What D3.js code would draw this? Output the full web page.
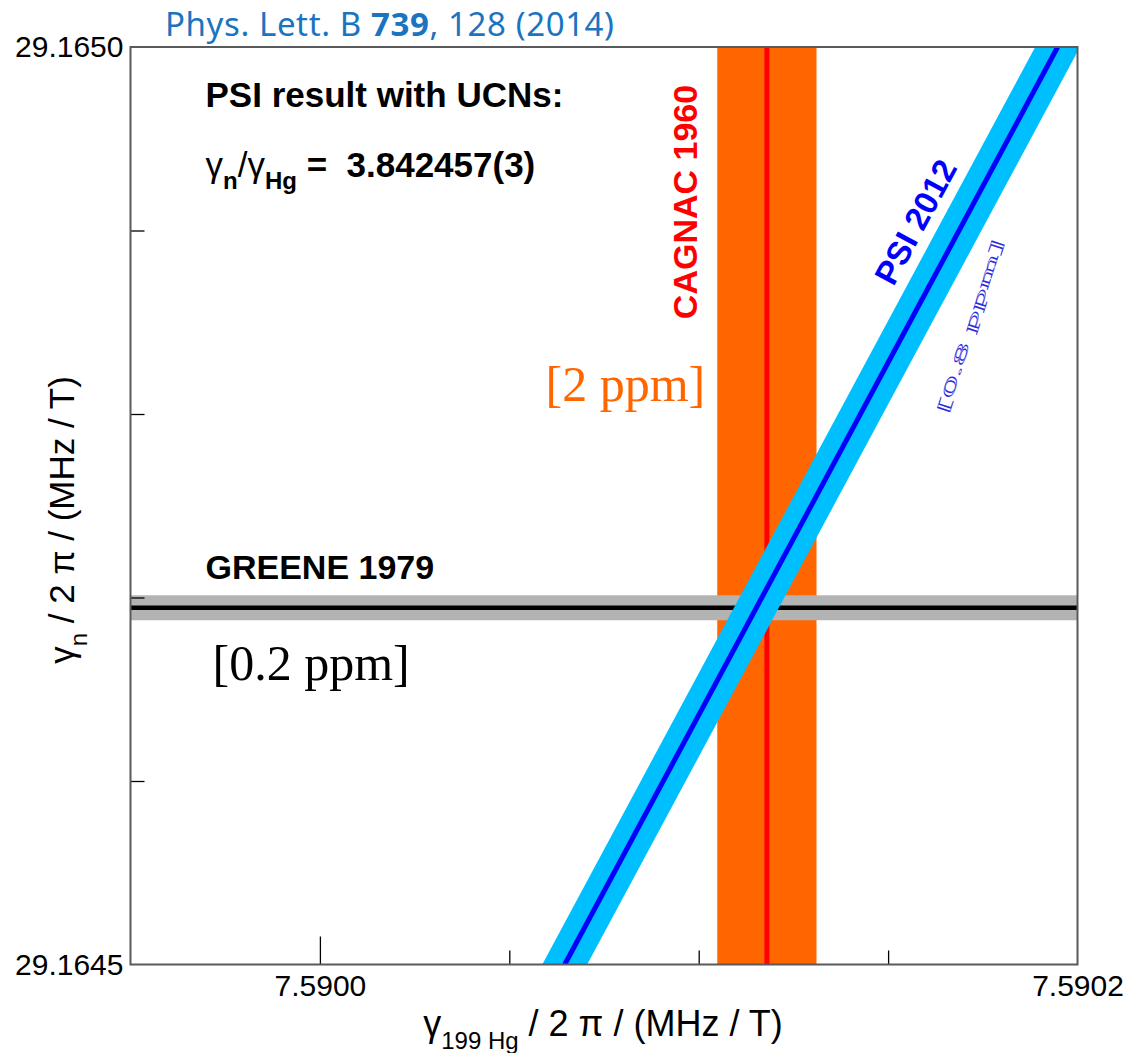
<!DOCTYPE html>
<html>
<head>
<meta charset="utf-8">
<script src="https://cdn.jsdelivr.net/npm/d3@7"></script>
<style>
  body { margin: 0; background: #fff; }
</style>
</head>
<body>
<div class="grafico"></div>
<script>
// datos del grafico
const xDomain = [7.58995, 7.5902];
const yDomain = [29.1645, 29.1650];
const xMajorTicks = [7.5900];
const xMinorTicks = [7.59005, 7.5901, 7.59015];
const xTickLabels = [7.5900, 7.5902];
const yTicks = [29.1646, 29.1647, 29.1648, 29.1649];
const yTickLabels = [29.1645, 29.1650];

// [valor, error]
const cagnac = [7.590118, 0.0000131];
const greene = [29.1646944, 0.0000068];
const psiRatio = [3.8424574, 0.000003];

var margin = { top: 47, right: 49.5, bottom: 88.5, left: 130.5 };
var width = 1127 - margin.left - margin.right;
var height = 1053 - margin.top - margin.bottom;

var xScale = d3.scaleLinear().domain(xDomain).range([0, width]);
var yScale = d3.scaleLinear().domain(yDomain).range([height, 0]);

var root = d3.select(".grafico")
  .append("svg")
  .attr("width", 1127)
  .attr("height", 1053)
  .attr("font-family", "Liberation Sans, Arial, sans-serif");

var svg = root.append("g")
  .attr("transform", "translate(" + margin.left + "," + margin.top + ")");

svg.append("clipPath").attr("id", "clip")
  .append("rect").attr("width", width).attr("height", height);

var plot = svg.append("g").attr("clip-path", "url(#clip)");

// CAGNAC 1960 banda + linea
plot.append("rect")
  .attr("x", xScale(cagnac[0] - cagnac[1]))
  .attr("width", xScale(cagnac[0] + cagnac[1]) - xScale(cagnac[0] - cagnac[1]))
  .attr("y", 0)
  .attr("height", height)
  .attr("fill", "#ff6600");

plot.append("line")
  .attr("x1", xScale(cagnac[0])).attr("x2", xScale(cagnac[0]))
  .attr("y1", 0).attr("y2", height)
  .attr("stroke", "#ff0000").attr("stroke-width", 5);

// GREENE 1979
plot.append("rect")
  .attr("x", 0)
  .attr("width", width)
  .attr("y", yScale(greene[0] + greene[1]))
  .attr("height", yScale(greene[0] - greene[1]) - yScale(greene[0] + greene[1]))
  .attr("fill", "#b3b3b3");

plot.append("line")
  .attr("x1", 0).attr("x2", width)
  .attr("y1", yScale(greene[0])).attr("y2", yScale(greene[0]))
  .attr("stroke", "#000").attr("stroke-width", 4.5);

// PSI 2012: gamma_n = R * gamma_Hg
var line = d3.line()
  .x(function(d) { return xScale(d.x); })
  .y(function(d) { return yScale(d.y); });

var rHi = psiRatio[0] + psiRatio[1];
var rLo = psiRatio[0] - psiRatio[1];
var band = [
  { x: yDomain[0] / rHi, y: yDomain[0] },
  { x: yDomain[1] / rHi, y: yDomain[1] },
  { x: yDomain[1] / rLo, y: yDomain[1] },
  { x: yDomain[0] / rLo, y: yDomain[0] }
];
plot.append("path")
  .attr("d", line(band) + "Z")
  .attr("fill", "#00bfff");

var psiLine = yDomain.map(function(y) { return { x: y / psiRatio[0], y: y }; });
plot.append("path")
  .datum(psiLine)
  .attr("fill", "none")
  .attr("stroke", "#0000ff")
  .attr("stroke-width", 5)
  .attr("d", line);

// ejes
svg.append("g")
  .attr("transform", "translate(0," + height + ")")
  .call(d3.axisBottom(xScale).tickValues(xMajorTicks).tickSize(-28).tickFormat(""))
  .call(function(g) { g.select(".domain").remove(); });

svg.append("g")
  .attr("transform", "translate(0," + height + ")")
  .call(d3.axisBottom(xScale).tickValues(xMinorTicks).tickSize(-14).tickFormat(""))
  .call(function(g) { g.select(".domain").remove(); });

svg.append("g")
  .attr("transform", "translate(0," + height + ")")
  .call(d3.axisBottom(xScale).tickValues(xTickLabels).tickSize(0).tickPadding(10).tickFormat(d3.format(".4f")))
  .call(function(g) { g.select(".domain").remove(); })
  .selectAll("text").attr("font-size", 30).attr("font-family", "Liberation Sans").attr("fill", "#000");

svg.append("g")
  .call(d3.axisLeft(yScale).tickValues(yTicks).tickSize(-14).tickFormat(""))
  .call(function(g) { g.select(".domain").remove(); });

svg.append("g")
  .call(d3.axisLeft(yScale).tickValues(yTickLabels).tickSize(0).tickPadding(7).tickFormat(d3.format(".4f")))
  .call(function(g) { g.select(".domain").remove(); })
  .selectAll("text").attr("font-size", 30).attr("font-family", "Liberation Sans").attr("fill", "#000");

svg.selectAll(".tick line").attr("stroke", "#000").attr("stroke-width", 1.3);

// marco
svg.append("rect")
  .attr("width", width).attr("height", height)
  .attr("fill", "none").attr("stroke", "#5a5a5a").attr("stroke-width", 2);

// titulos de ejes
var xt = root.append("text")
  .attr("x", 603).attr("y", 1036)
  .attr("text-anchor", "middle")
  .attr("font-size", 36);
xt.append("tspan").text("γ");
xt.append("tspan").attr("dy", 13).attr("font-size", 24).text("199 Hg");
xt.append("tspan").attr("dy", -13).text(" / 2 π / (MHz / T)");

var yt = root.append("text")
  .attr("transform", "translate(74,520) rotate(-90)")
  .attr("text-anchor", "middle")
  .attr("font-size", 35);
yt.append("tspan").text("γ");
yt.append("tspan").attr("dy", 13).attr("font-size", 24).text("n");
yt.append("tspan").attr("dy", -13).text(" / 2 π / (MHz / T)");

// referencia
var ref = root.append("text")
  .attr("x", 165).attr("y", 36)
  .attr("font-family", "Noto Sans")
  .attr("font-size", 33)
  .attr("letter-spacing", 0.6)
  .attr("fill", "#1b74bf");
ref.append("tspan").text("Phys. Lett. B ");
ref.append("tspan").attr("font-weight", "bold").text("739");
ref.append("tspan").text(", 128 (2014)");

// anotaciones
svg.append("text")
  .attr("x", 75).attr("y", 60)
  .attr("font-size", 35).attr("font-weight", "bold")
  .text("PSI result with UCNs:");

var ratio = svg.append("text")
  .attr("x", 75).attr("y", 130)
  .attr("font-size", 35);
ratio.append("tspan").text("γ");
ratio.append("tspan").attr("dy", 12).attr("font-size", 24).attr("font-weight", "bold").text("n");
ratio.append("tspan").attr("dy", -12).text("/γ");
ratio.append("tspan").attr("dy", 12).attr("font-size", 24).attr("font-weight", "bold").text("Hg");
ratio.append("tspan").attr("dy", -12).attr("font-weight", "bold").attr("xml:space", "preserve").text(" =  " + psiRatio[0].toFixed(6) + "(3)");

svg.append("text")
  .attr("x", 75).attr("y", yScale(greene[0]) - 29)
  .attr("font-size", 34).attr("font-weight", "bold")
  .text("GREENE 1979");

svg.append("text")
  .attr("x", 82).attr("y", yScale(greene[0]) + 72)
  .attr("font-family", "Liberation Serif")
  .attr("font-size", 50)
  .text("[0.2 ppm]");

svg.append("text")
  .attr("transform", "translate(" + (xScale(cagnac[0] - cagnac[1]) - 32) + ",155) rotate(-90)")
  .attr("text-anchor", "middle")
  .attr("dominant-baseline", "central")
  .attr("font-size", 34).attr("font-weight", "bold")
  .attr("fill", "#ff0000")
  .text("CAGNAC 1960");

svg.append("text")
  .attr("x", xScale(cagnac[0] - cagnac[1]) - 12).attr("y", 354)
  .attr("text-anchor", "end")
  .attr("font-family", "Liberation Serif")
  .attr("font-size", 50)
  .attr("fill", "#ff6600")
  .text("[2 ppm]");

var psiLabelY = 29.1649046;
var ang = Math.atan((yScale(yDomain[0]) - yScale(yDomain[1])) /
  (xScale(yDomain[1] / psiRatio[0]) - xScale(yDomain[0] / psiRatio[0]))) * 180 / Math.PI;
svg.append("text")
  .attr("transform", "translate(" + (xScale(psiLabelY / psiRatio[0]) - 48) + "," + yScale(psiLabelY) + ") rotate(" + (-ang) + ")")
  .attr("text-anchor", "middle")
  .attr("dominant-baseline", "central")
  .attr("font-size", 33).attr("font-weight", "bold")
  .attr("fill", "#0000ff")
  .text("PSI 2012");

var sqY = 29.164848;
svg.append("text")
  .attr("transform", "translate(" + (xScale(sqY / psiRatio[0]) + 62) + "," + yScale(sqY) + ") rotate(-72) scale(1,0.35)")
  .attr("text-anchor", "middle")
  .attr("dominant-baseline", "central")
  .attr("font-family", "Liberation Serif")
  .attr("font-size", 46)
  .attr("fill", "none")
  .attr("stroke", "#2b2bdd")
  .attr("stroke-width", 1.6)
  .text("[0.8 ppm]");
</script>
</body>
</html>
